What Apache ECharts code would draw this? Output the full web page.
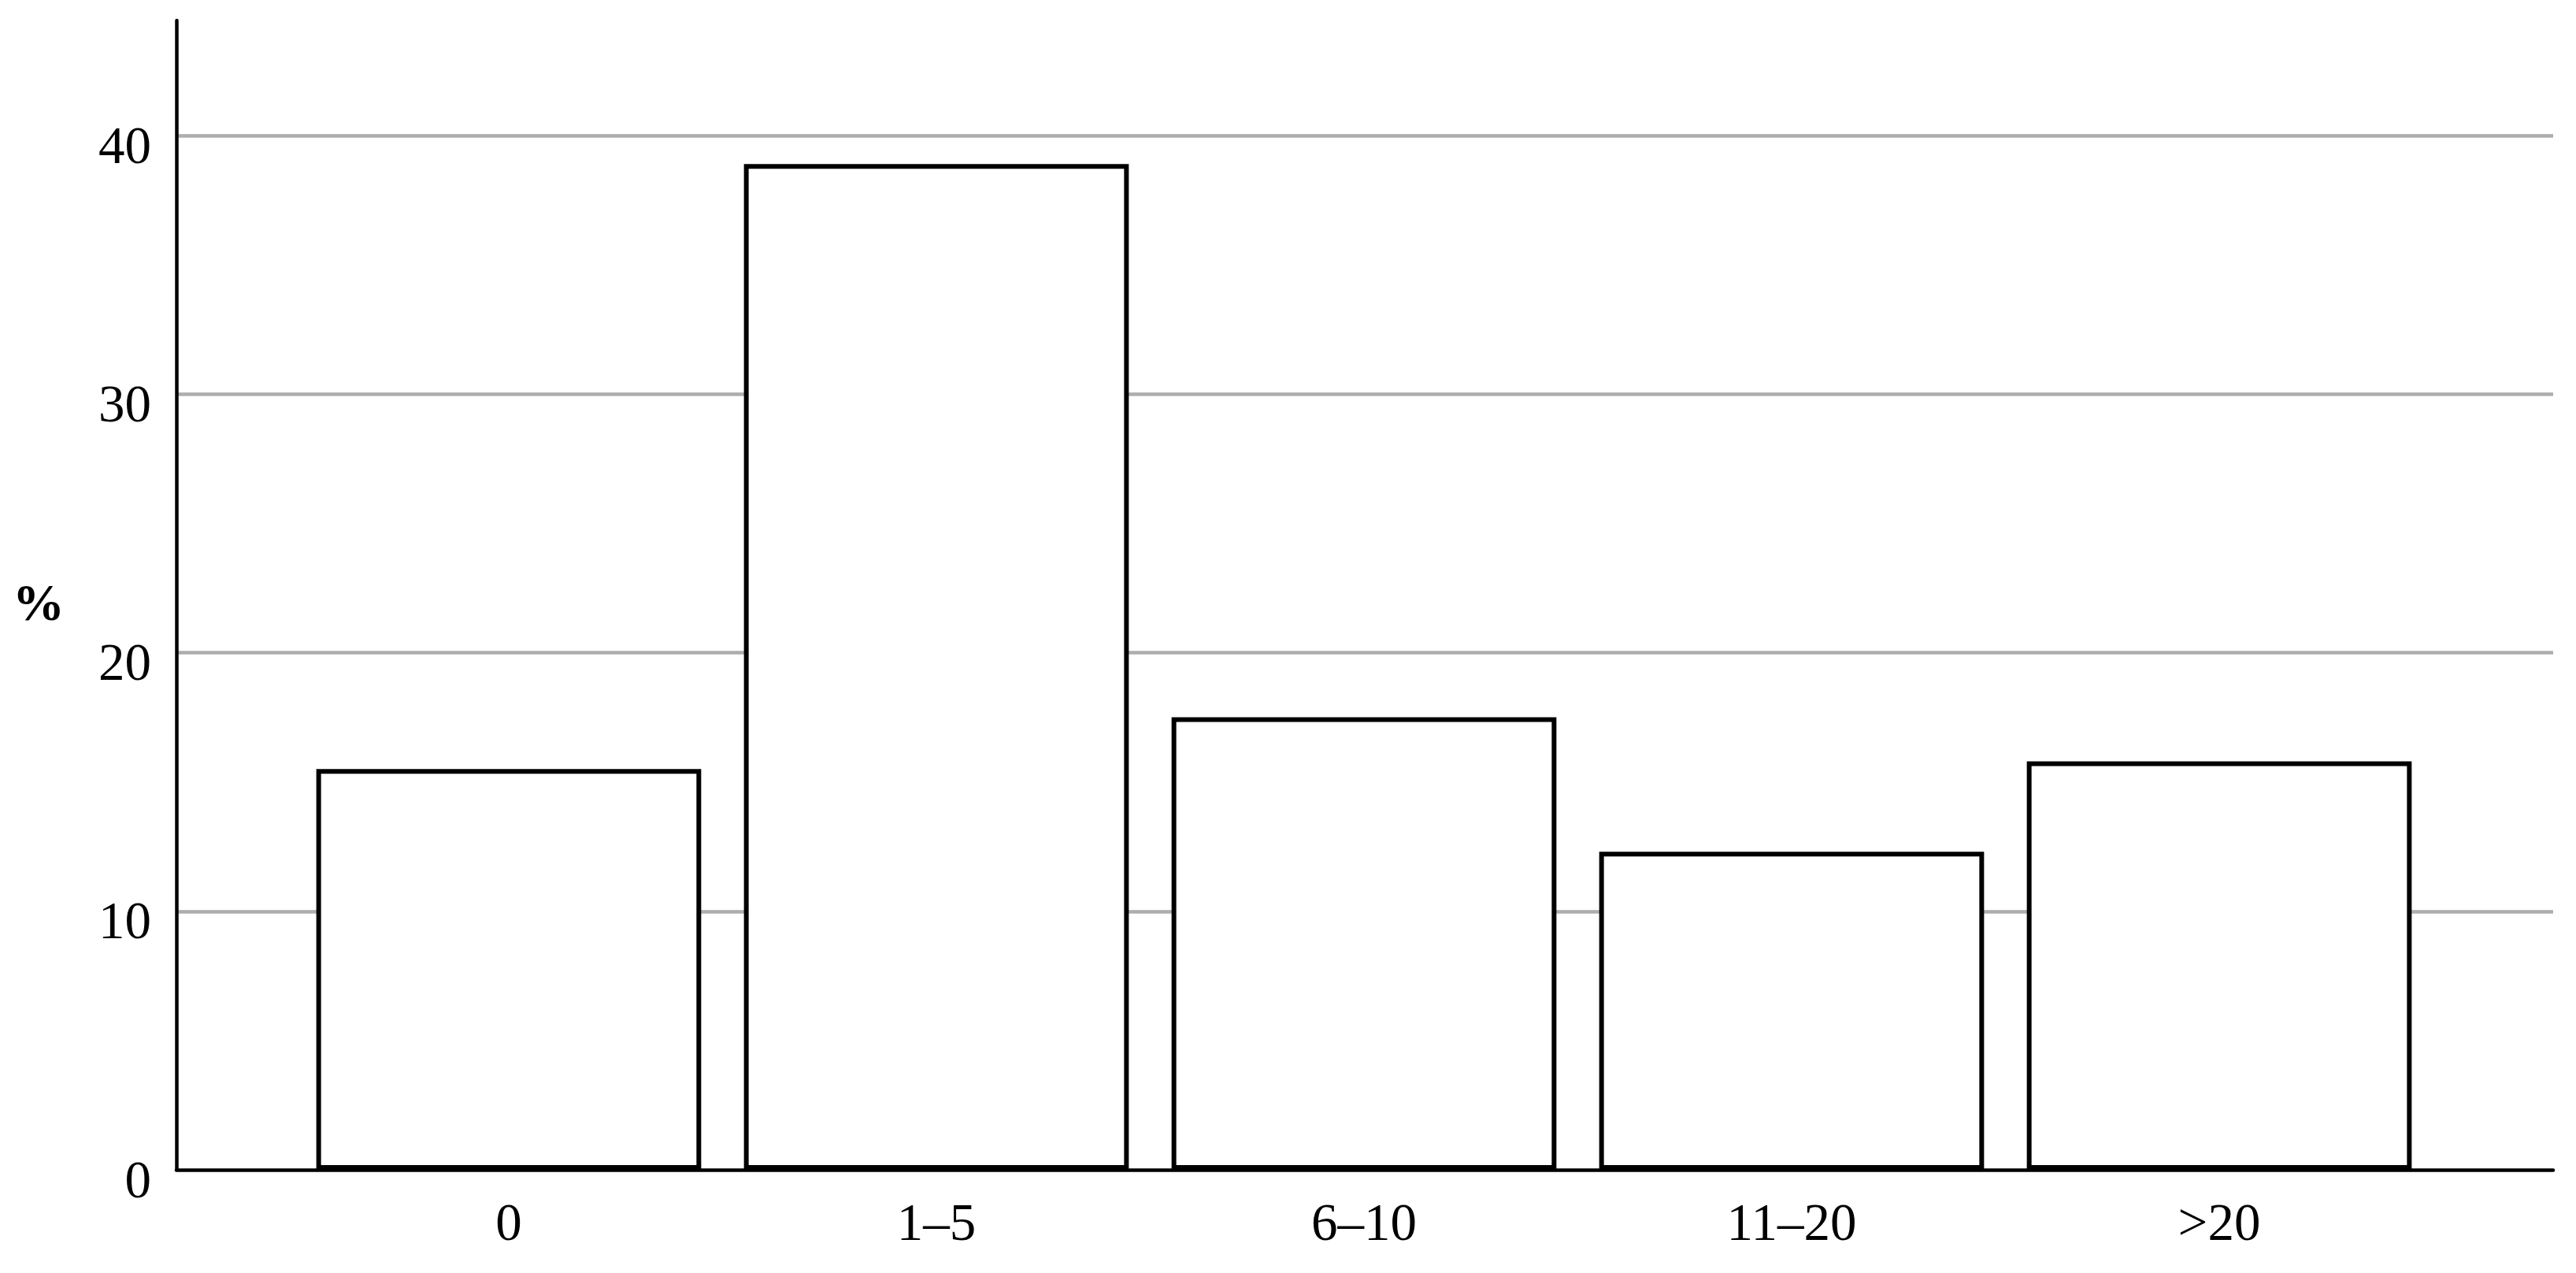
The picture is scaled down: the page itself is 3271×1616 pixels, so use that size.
<!DOCTYPE html>
<html>
<head>
<meta charset="utf-8">
<script src="https://cdn.jsdelivr.net/npm/echarts@6/dist/echarts.min.js"></script>
<style>
html,body{margin:0;padding:0;background:#fff;}
#chart{width:3271px;height:1616px;}
</style>
</head>
<body>
<div id="chart"></div>
<script>
const categories = ['0', '1–5', '6–10', '11–20', '>20'];
const percentValues = [15.5, 38.9, 17.5, 12.3, 15.8];
const yTicks = [0, 10, 20, 30, 40];
const yAxisName = '%';

const FONT = 'Liberation Serif';
const Y_MAX = 44.45;

const chart = echarts.init(document.getElementById('chart'), null, {renderer: 'canvas'});
chart.setOption({
  backgroundColor: '#ffffff',
  animation: false,
  grid: [
    {left: 224, right: 29, top: 26, bottom: 131},
    {left: 374.5, right: 181.5, top: 26, bottom: 131}
  ],
  xAxis: [
    {
      gridIndex: 0, type: 'value', min: 0, max: 1,
      axisLine: {show: true, lineStyle: {color: '#000', width: 4.5}},
      axisTick: {show: false}, axisLabel: {show: false}, splitLine: {show: false}
    },
    {
      gridIndex: 1, type: 'category', data: categories,
      axisLine: {show: false}, axisTick: {show: false}, splitLine: {show: false},
      axisLabel: {
        margin: 38, color: '#000', fontFamily: FONT, fontSize: 67
      }
    }
  ],
  yAxis: [
    {
      gridIndex: 0, type: 'value', min: 0, max: Y_MAX, interval: 10,
      name: yAxisName, nameLocation: 'middle', nameRotate: 0, nameGap: 142,
      nameTextStyle: {color: '#000', fontFamily: FONT, fontSize: 66, fontWeight: 'bold', verticalAlign: 'top', lineHeight: 28},
      axisLine: {show: true, lineStyle: {color: '#000', width: 4.5}},
      axisTick: {show: false},
      axisLabel: {
        margin: 32, color: '#000', fontFamily: FONT, fontSize: 67,
        showMaxLabel: false,
        verticalAlign: 'top', lineHeight: 34,
        formatter: v => (yTicks.indexOf(v) >= 0 ? String(v) : '')
      },
      splitLine: {show: true, showMaxLine: false, showMinLine: false, lineStyle: {color: '#adadad', width: 4.5}}
    },
    {
      gridIndex: 1, type: 'value', min: 0, max: Y_MAX, show: false, splitLine: {show: false}
    }
  ],
  series: [
    {
      type: 'bar', xAxisIndex: 1, yAxisIndex: 1,
      data: percentValues,
      barWidth: '90%',
      itemStyle: {color: '#ffffff', borderColor: '#000000', borderWidth: 6}
    }
  ]
});
</script>
</body>
</html>
